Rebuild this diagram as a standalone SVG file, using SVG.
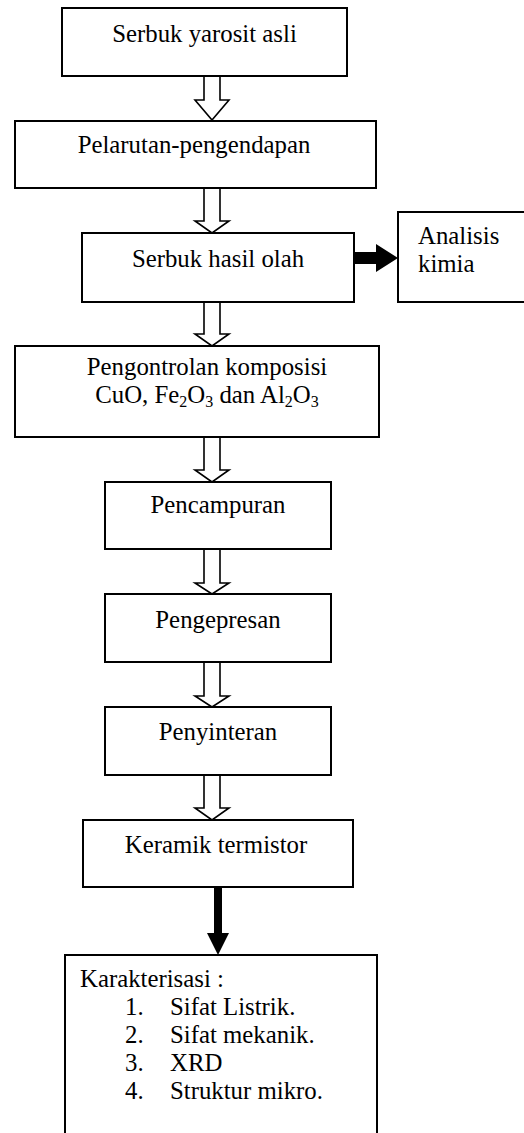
<svg xmlns="http://www.w3.org/2000/svg" width="524" height="1133" viewBox="0 0 524 1133">
<style>
.box{fill:#fff;stroke:#000;stroke-width:2}
.t{font-family:"Liberation Serif","Times New Roman",Times,serif;font-size:24.8px;fill:#000}
.m{text-anchor:middle}
.hollow{fill:#fff;stroke:#000;stroke-width:1.6;stroke-linejoin:miter}
.solid{fill:#000;stroke:none}
.sub{font-size:16px}
</style>
<rect width="524" height="1133" fill="#fff"/>
<g id="connectors">
<path class="hollow" d="M204,76 V100 H195 L212,120 L229,100 H220 V76"/>
<path class="hollow" d="M204,188 V221 H195 L212,233 L229,221 H220 V188"/>
<path class="hollow" d="M204,302 V334 H195 L212,346 L229,334 H220 V302"/>
<path class="hollow" d="M204,437 V470 H195 L212,482 L229,470 H220 V437"/>
<path class="hollow" d="M204,549 V583 H195 L212,594 L229,583 H220 V549"/>
<path class="hollow" d="M204,662 V696 H195 L212,707 L229,696 H220 V662"/>
<path class="hollow" d="M204,775 V808 H195 L212,820 L229,808 H220 V775"/>
<path class="solid" d="M354,252 H376 V244 L398,258 L376,272 V264 H354 Z"/>
<path class="solid" d="M214,887 V933 H207 L218,955 L229,933 H222 V887 Z"/>
</g>
<g id="n1"><rect class="box" x="62" y="8" width="285" height="68"/><text class="t m" x="204.5" y="42">Serbuk yarosit asli</text></g>
<g id="n2"><rect class="box" x="15" y="121" width="361" height="67"/><text class="t m" x="194" y="153">Pelarutan-pengendapan</text></g>
<g id="n3"><rect class="box" x="82" y="233" width="272" height="69"/><text class="t m" x="218" y="267">Serbuk hasil olah</text></g>
<g id="n3b"><rect class="box" x="398" y="212" width="130" height="90"/><text class="t" x="418" y="244">Analisis</text><text class="t" x="418" y="272">kimia</text></g>
<g id="n4"><rect class="box" x="15" y="346" width="364" height="91"/><text class="t m" x="207" y="375">Pengontrolan komposisi</text><text class="t m" x="207" y="403">CuO, Fe<tspan class="sub" dy="4">2</tspan><tspan dy="-4">O</tspan><tspan class="sub" dy="4">3</tspan><tspan dy="-4"> dan Al</tspan><tspan class="sub" dy="4">2</tspan><tspan dy="-4">O</tspan><tspan class="sub" dy="4">3</tspan></text></g>
<g id="n5"><rect class="box" x="105" y="482" width="226" height="67"/><text class="t m" x="218" y="513">Pencampuran</text></g>
<g id="n6"><rect class="box" x="105" y="594" width="226" height="68"/><text class="t m" x="218" y="628">Pengepresan</text></g>
<g id="n7"><rect class="box" x="105" y="707" width="226" height="68"/><text class="t m" x="218" y="740">Penyinteran</text></g>
<g id="n8"><rect class="box" x="83" y="820" width="270" height="67"/><text class="t m" x="216" y="853">Keramik termistor</text></g>
<g id="n9"><rect class="box" x="65" y="955" width="312" height="190"/>
<text class="t" x="80" y="987">Karakterisasi :</text>
<text class="t" x="125" y="1015">1.</text><text class="t" x="170" y="1015">Sifat Listrik.</text>
<text class="t" x="125" y="1043">2.</text><text class="t" x="170" y="1043">Sifat mekanik.</text>
<text class="t" x="125" y="1071">3.</text><text class="t" x="170" y="1071">XRD</text>
<text class="t" x="125" y="1099">4.</text><text class="t" x="170" y="1099">Struktur mikro.</text>
</g>
</svg>
